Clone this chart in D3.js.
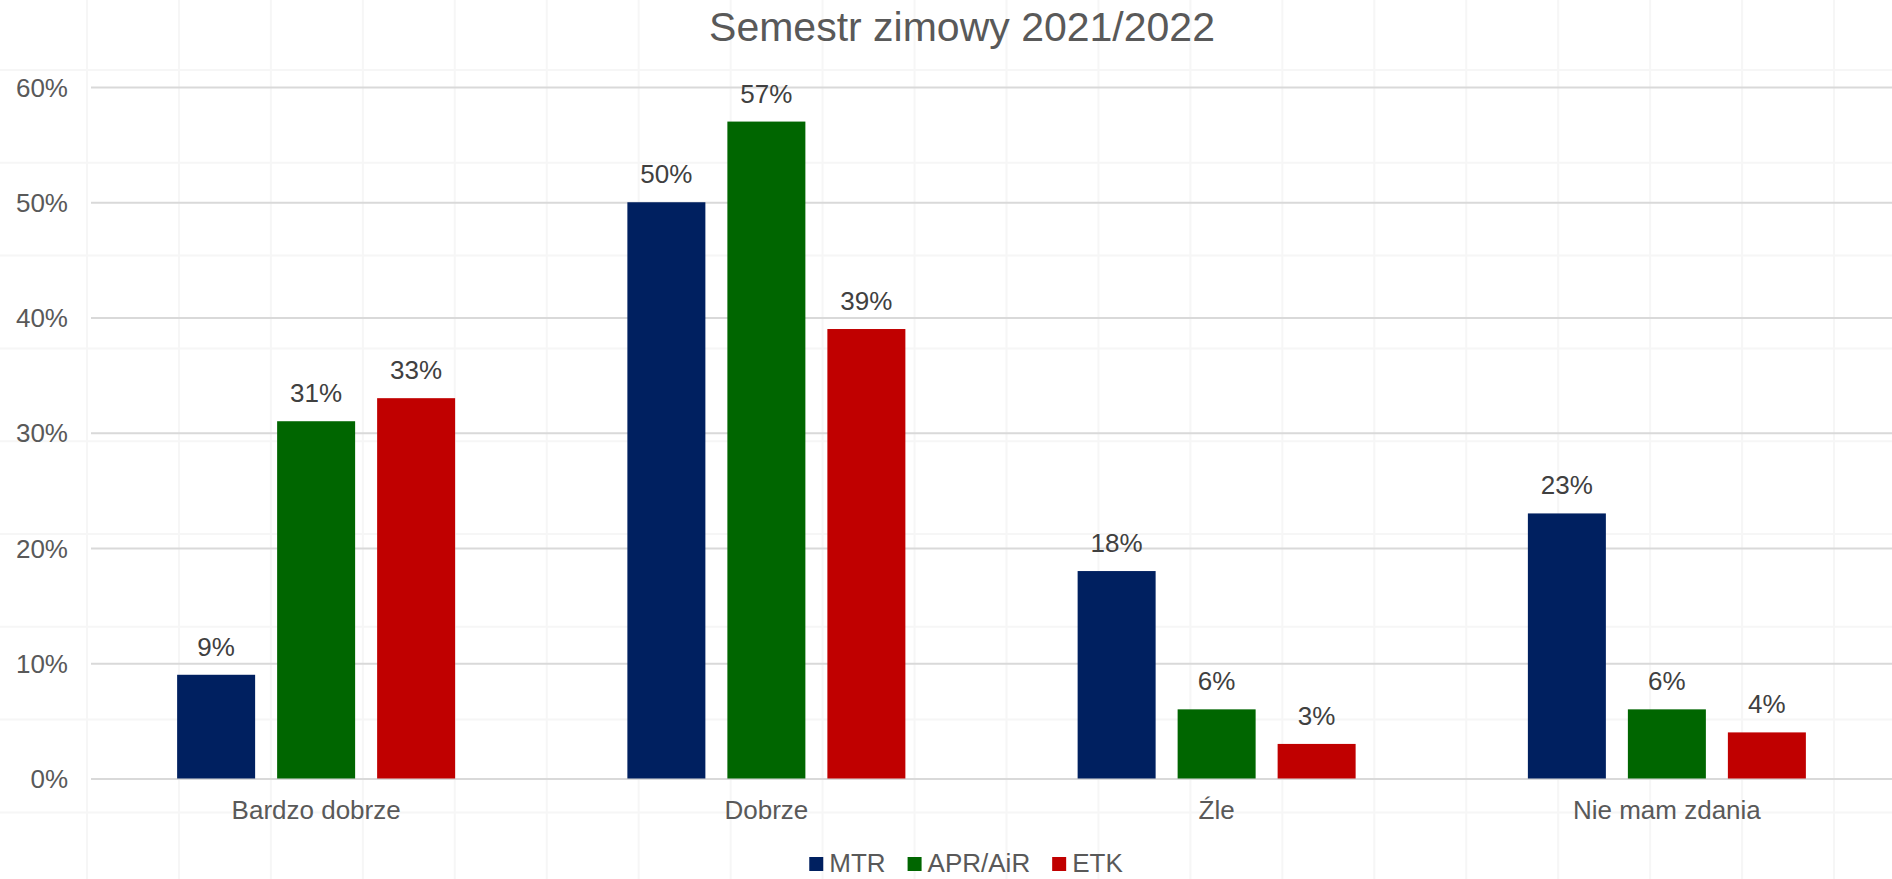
<!DOCTYPE html>
<html>
<head>
<meta charset="utf-8">
<script src="https://cdn.jsdelivr.net/npm/d3@7"></script>
<style>
  html, body { margin: 0; padding: 0; background: #ffffff; overflow: hidden; }
  svg { display: block; }
  text { font-family: "Liberation Sans", Arial, Helvetica, sans-serif; }
</style>
</head>
<body>
<svg id="chart" width="1892" height="879"></svg>
<script>
// ---- data ----
const title = "Semestr zimowy 2021/2022";
const categories = ["Bardzo dobrze", "Dobrze", "Źle", "Nie mam zdania"];
const seriesNames = ["MTR", "APR/AiR", "ETK"];
const mtrValues = [9, 50, 18, 23];
const aprValues = [31, 57, 6, 6];
const etkValues = [33, 39, 3, 4];
const yTicks = [0, 10, 20, 30, 40, 50, 60];
const seriesColors = ["#002060", "#006600", "#C00000"];

const seriesValues = [mtrValues, aprValues, etkValues];

// ---- layout ----
const W = 1892, H = 879;
const svg = d3.select("#chart");

// faint background grid (texture of the source image)
const bgX = d3.range(87, W, 91.95);
const bgY = d3.range(70, H, 92.8);
const bg = svg.append("g");
bg.selectAll("line.v").data(bgX).join("line")
  .attr("x1", d => d).attr("x2", d => d).attr("y1", 0).attr("y2", H)
  .attr("stroke", "#f6f6f6").attr("stroke-width", 2);
bg.selectAll("line.h").data(bgY).join("line")
  .attr("x1", 0).attr("x2", W).attr("y1", d => d).attr("y2", d => d)
  .attr("stroke", "#f6f6f6").attr("stroke-width", 2);

const plotLeft = 91, plotRight = 1892;
const y = d3.scaleLinear().domain([0, 60]).range([778.5, 87]);
const x0 = d3.scaleBand().domain(categories).range([plotLeft, plotRight]).padding(0);
const x1 = d3.scaleBand().domain(seriesNames).range([-150, 150]).paddingInner(0.22).paddingOuter(0.11);

// gridlines + y axis
const yAxis = d3.axisLeft(y).tickValues(yTicks).tickSize(-(plotRight - plotLeft)).tickFormat(d => d + "%");
const gy = svg.append("g").attr("transform", `translate(${plotLeft},0)`).call(yAxis);
gy.select(".domain").remove();
gy.selectAll(".tick line").attr("stroke", "#d9d9d9").attr("stroke-width", 2);
gy.selectAll(".tick text")
  .attr("x", -23).attr("dy", "0.35em")
  .attr("fill", "#595959").attr("font-size", 26);

// bars
const rows = [];
categories.forEach((c, i) => seriesNames.forEach((s, j) => rows.push({ cat: c, ser: s, val: seriesValues[j][i], color: seriesColors[j] })));

svg.append("g").selectAll("rect").data(rows).join("rect")
  .attr("x", d => x0(d.cat) + x0.bandwidth() / 2 + x1(d.ser))
  .attr("width", x1.bandwidth())
  .attr("y", d => y(d.val))
  .attr("height", d => y(0) - y(d.val))
  .attr("fill", d => d.color);

// value labels
svg.append("g").selectAll("text").data(rows).join("text")
  .attr("x", d => x0(d.cat) + x0.bandwidth() / 2 + x1(d.ser) + x1.bandwidth() / 2)
  .attr("y", d => y(d.val) - 19)
  .attr("text-anchor", "middle")
  .attr("fill", "#404040").attr("font-size", 26)
  .text(d => d.val + "%");

// category axis
const xAxis = d3.axisBottom(x0).tickSize(0).tickPadding(0);
const gx = svg.append("g").attr("transform", `translate(0,${y(0)})`).call(xAxis);
gx.select(".domain").remove();
gx.selectAll(".tick text").attr("y", 40).attr("dy", 0)
  .attr("fill", "#595959").attr("font-size", 26);

// title
svg.append("text").attr("x", 962).attr("y", 41)
  .attr("text-anchor", "middle").attr("fill", "#595959").attr("font-size", 41)
  .text(title);

// legend
const legend = svg.append("g");
const items = legend.selectAll("g").data(seriesNames).join("g");
items.append("rect").attr("width", 14).attr("height", 14).attr("y", 857)
  .attr("fill", (d, i) => seriesColors[i]);
items.append("text").attr("x", 20).attr("y", 872)
  .attr("fill", "#595959").attr("font-size", 26).text(d => d);
let off = 0;
const offsets = [];
items.each(function () {
  offsets.push(off);
  off += 20 + this.querySelector("text").getComputedTextLength() + 22;
});
const totalW = off - 22;
const startX = 966 - totalW / 2;
items.attr("transform", (d, i) => `translate(${startX + offsets[i]},0)`);
</script>
</body>
</html>
